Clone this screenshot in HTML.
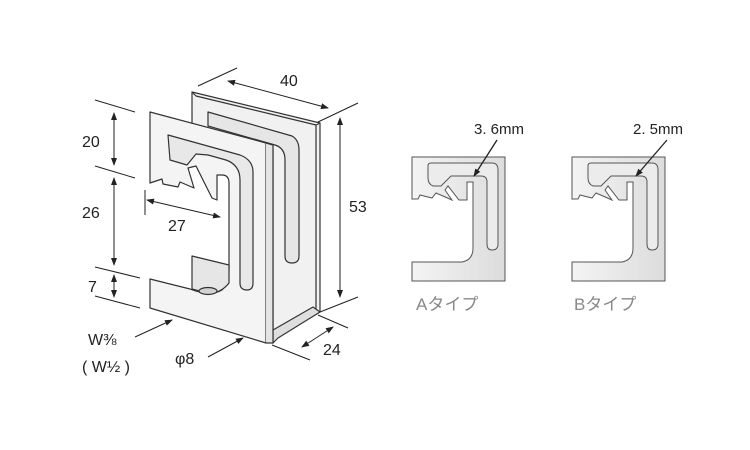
<!DOCTYPE html>
<html><head><meta charset="utf-8"><style>
html,body{margin:0;padding:0;background:#fff;width:750px;height:450px;overflow:hidden}
svg{display:block}
text{font-family:"Liberation Sans","Noto Sans CJK JP",sans-serif;fill:#222}
</style></head><body>
<svg width="750" height="450" viewBox="0 0 750 450">
<defs>
<linearGradient id="g" x1="0" y1="0" x2="1" y2="0"><stop offset="0" stop-color="#f4f4f4"/><stop offset="1" stop-color="#dcdcdc"/></linearGradient>
<marker id="a" markerWidth="8" markerHeight="8" refX="7" refY="4" orient="auto" markerUnits="userSpaceOnUse"><path d="M0,1 L8,4 L0,7 Z" fill="#222"/></marker>
<marker id="s" markerWidth="8" markerHeight="8" refX="1" refY="4" orient="auto" markerUnits="userSpaceOnUse"><path d="M8,1 L0,4 L8,7 Z" fill="#222"/></marker>
<g id="prof">
<path d="M412,157 H505 V281 H412 V262 H462 Q473,260 473,248 V182 H467 V200 L459,200 L448,186 L445,190 L452,200 L443,196 L436,193 L432,198 L420,195 L418,199 L412,199 Z" fill="url(#g)" stroke="#555" stroke-width="1"/>
<path d="M431,163 H492 Q498,163 498,170 V244 Q498,250 492,250 Q487,250 487,244 V182 Q487,176 481,176 H451 L441,186 H433 Q428,184 428,178 V166 Q428,163 431,163 Z" fill="#ececec" stroke="#555" stroke-width="1"/>
</g>
</defs>
<g stroke="#333" stroke-width="1.2" fill="#f1f1f1" stroke-linejoin="round">
<!-- back plate -->
<path d="M192,92 L320,123 L320,312 L276,338 L273,343 L273,150 L192,128 Z"/>
<path d="M192,92 L196,96 L316,125 L320,123" fill="none"/>
<path d="M316,125 V314" fill="none"/>
<path d="M208,112 L292,136 Q299,140 299,150 V256 Q299,263 292,263 Q285,263 285,256 V160 Q285,148 275,145 L208,126 Z" fill="#e6e6e6"/>
<!-- bottom U -->
<path d="M273,343 L273,330 L313,307 L320,312 L278,338 Z" fill="#dedede"/>
<!-- front plate -->
<path d="M150,112 L266,143 V343 L150,308 V279 L190,289 Q210,297 222,290 Q229,283 229,270 V183 Q229,175 222,175 H217 V200 L212,198 L196,166 L188,168 L194,188 L180,182 L178,187 L163,184 L162,179 L150,183 Z" fill="#f4f4f4"/>
<path d="M266,143 L273,145 V343 L266,343" fill="#e4e4e4"/>
<path d="M168,135 L240,155 Q253,160 253,172 V283 Q253,290 247,290 Q240,290 240,283 V180 Q240,165 226,160 L208,155 L196,154 L187,165 L170,160 Z" fill="#e8e8e8"/>
<path d="M192,256 L229,265 V283 Q222,292 210,294 L192,289 Z" fill="#e6e6e6"/>
<ellipse cx="208" cy="291" rx="9" ry="3.5" fill="#d2d2d2"/>
</g>
<g stroke="#222" stroke-width="1" fill="none">
<line x1="198" y1="86" x2="237" y2="68"/><line x1="318" y1="122" x2="358" y2="103"/>
<line x1="228" y1="81" x2="328" y2="108" marker-start="url(#s)" marker-end="url(#a)"/>
<line x1="320" y1="312" x2="358" y2="297"/>
<line x1="340" y1="118" x2="340" y2="297" marker-start="url(#s)" marker-end="url(#a)"/>
<line x1="95" y1="100" x2="135" y2="112"/><line x1="95" y1="166" x2="135" y2="178"/>
<line x1="95" y1="267" x2="140" y2="278"/><line x1="95" y1="296" x2="140" y2="308"/>
<line x1="114" y1="113" x2="114" y2="165" marker-start="url(#s)" marker-end="url(#a)"/>
<line x1="114" y1="178" x2="114" y2="265" marker-start="url(#s)" marker-end="url(#a)"/>
<line x1="114" y1="275" x2="114" y2="297" marker-start="url(#s)" marker-end="url(#a)"/>
<line x1="145" y1="190" x2="145" y2="215"/>
<line x1="147" y1="200" x2="220" y2="217" marker-start="url(#s)" marker-end="url(#a)"/>
<line x1="272" y1="345" x2="310" y2="360"/><line x1="318" y1="315" x2="348" y2="328"/>
<line x1="302" y1="347" x2="333" y2="327" marker-start="url(#s)" marker-end="url(#a)"/>
<line x1="135" y1="337" x2="172" y2="320" marker-end="url(#a)"/>
<line x1="208" y1="357" x2="243" y2="338" marker-end="url(#a)"/>
</g>
<g font-size="16">
<text x="280" y="86">40</text>
<text x="349" y="212">53</text>
<text x="82" y="147">20</text>
<text x="82" y="218">26</text>
<text x="88" y="292">7</text>
<text x="168" y="231">27</text>
<text x="323" y="355">24</text>
<text x="88" y="345">W⅜</text>
<text x="82" y="372">( W½ )</text>
<text x="175" y="364">φ8</text>
</g>
<use href="#prof"/>
<use href="#prof" transform="translate(160,0)"/>
<g stroke="#222" stroke-width="1.3" fill="none">
<line x1="497" y1="140" x2="474" y2="176" marker-end="url(#a)"/>
<line x1="667" y1="140" x2="636" y2="176" marker-end="url(#a)"/>
</g>
<text x="474" y="134" font-size="15">3. 6mm</text>
<text x="633" y="134" font-size="15">2. 5mm</text>
<text x="416" y="310" font-size="17" style="fill:#888">Aタイプ</text>
<text x="574" y="310" font-size="17" style="fill:#888">Bタイプ</text>
</svg>
</body></html>
